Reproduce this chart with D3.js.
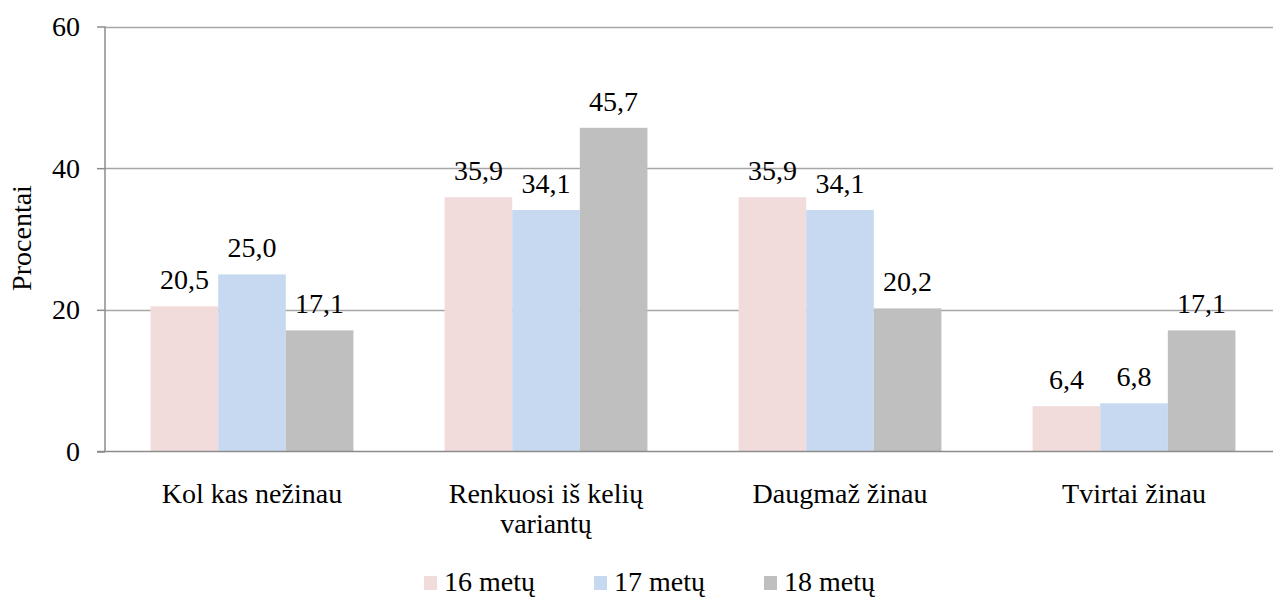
<!DOCTYPE html>
<html><head><meta charset="utf-8">
<script src="https://cdn.jsdelivr.net/npm/d3@7"></script>
<style>body{margin:0;background:#fff}</style>
</head><body>
<svg id="c" width="1273" height="598"></svg>
<script>
const categories = [["Kol kas nežinau"], ["Renkuosi iš kelių", "variantų"], ["Daugmaž žinau"], ["Tvirtai žinau"]];
const series = ["16 metų", "17 metų", "18 metų"];
const v16 = [20.5, 35.9, 35.9, 6.4];
const v17 = [25.0, 34.1, 34.1, 6.8];
const v18 = [17.1, 45.7, 20.2, 17.1];
const yTicks = [0, 20, 40, 60];
const colors = ["#F2DCDB", "#C6D9F1", "#BFBFBF"];
const values = [v16, v17, v18];

(function () {
const svg = d3.select("#c");
const font = "'Liberation Serif', 'Times New Roman', serif";
const fs = 28;
const pLeft = 105, pRight = 1281, pTop = 26.5, pBottom = 451.5;
const x = d3.scaleBand().domain(d3.range(categories.length)).range([pLeft, pRight]).paddingInner(0.31).paddingOuter(0.155);
const xs = d3.scaleBand().domain(d3.range(series.length)).range([0, x.bandwidth()]);
const y = d3.scaleLinear().domain([0, 60]).range([pBottom, pTop]);

// gridlines
svg.append("g").selectAll("line").data(yTicks.filter(d => d > 0)).join("line")
  .attr("x1", pLeft).attr("x2", 1273).attr("y1", d => Math.round(y(d)) + 0.5).attr("y2", d => Math.round(y(d)) + 0.5)
  .attr("stroke", "#a6a6a6").attr("stroke-width", 1.5);

// bars
series.forEach((s, si) => {
  svg.append("g").selectAll("rect").data(values[si]).join("rect")
    .attr("x", (d, i) => x(i) + xs(si)).attr("width", xs.bandwidth())
    .attr("y", d => y(d)).attr("height", d => y(0) - y(d))
    .attr("fill", colors[si]);
});
series.forEach((s, si) => {
  svg.append("g").selectAll("text").data(values[si]).join("text")
    .attr("x", (d, i) => x(i) + xs(si) + xs.bandwidth() / 2)
    .attr("y", d => y(d) - 17)
    .attr("text-anchor", "middle").attr("font-family", font).attr("font-size", fs)
    .attr("fill", "#000")
    .text(d => d.toFixed(1).replace(".", ","));
});

// y axis
const yAxis = d3.axisLeft(y).tickValues(yTicks).tickSize(8).tickPadding(17).tickFormat(d3.format("d"));
const ya = svg.append("g").attr("transform", `translate(${pLeft},0)`).call(yAxis);
ya.select(".domain").attr("stroke", "#8c8c8c").attr("stroke-width", 1.5).attr("d", `M0,${pTop}V${pBottom}`);
ya.selectAll(".tick line").attr("stroke", "#8c8c8c").attr("stroke-width", 1.5);
ya.selectAll(".tick text").attr("font-family", font).attr("font-size", fs).attr("fill", "#000").attr("dy", "0.32em");

// x axis line
const xAxis = d3.axisBottom(x).tickSize(0).tickFormat("");
const xa = svg.append("g").attr("transform", `translate(0,${pBottom})`).call(xAxis);
xa.select(".domain").attr("stroke", "#8c8c8c").attr("stroke-width", 1.5).attr("d", `M${pLeft - 8},0H1273`);

// category labels
const cl = svg.append("g").selectAll("text").data(categories).join("text")
  .attr("x", (d, i) => x(i) + x.bandwidth() / 2).attr("y", 503)
  .attr("text-anchor", "middle").attr("font-family", font).attr("font-size", fs).attr("fill", "#000");
cl.each(function(d) {
  const t = d3.select(this);
  d.forEach((line, li) => {
    t.append("tspan").attr("x", t.attr("x")).attr("dy", li === 0 ? 0 : 30).text(line);
  });
});

// y title
svg.append("text").attr("transform", "translate(31,238) rotate(-90)")
  .attr("text-anchor", "middle").attr("font-family", font).attr("font-size", fs).attr("fill", "#000")
  .text("Procentai");

// legend
const legX = [424, 594, 764];
const lg = svg.append("g").selectAll("g").data(series).join("g")
  .attr("transform", (d, i) => `translate(${legX[i]},0)`);
lg.append("rect").attr("x", 0).attr("y", 576).attr("width", 13).attr("height", 14).attr("fill", (d, i) => colors[i]);
lg.append("text").attr("x", 20).attr("y", 591).attr("font-family", font).attr("font-size", fs).attr("fill", "#000").text(d => d);
})();
</script>
</body></html>
